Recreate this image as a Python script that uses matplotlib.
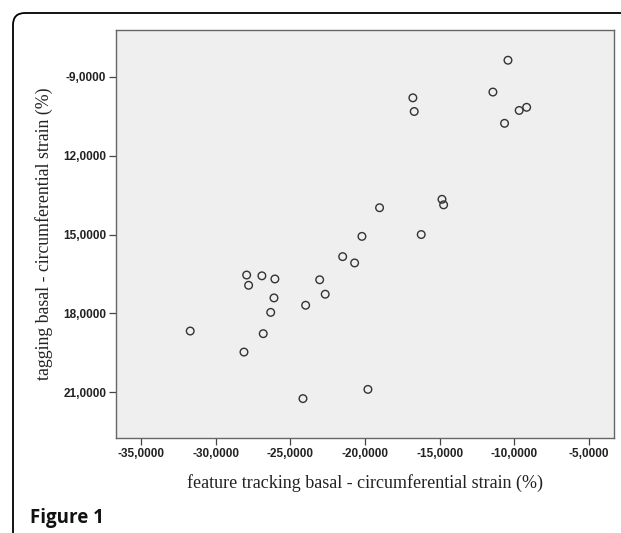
import matplotlib
matplotlib.use("Agg")
import matplotlib.pyplot as plt
from matplotlib.patches import FancyBboxPatch

# Data (feature tracking vs tagging basal circumferential strain, %)
feature_tracking = [-10.42, -11.43, -16.79, -16.70, -9.17, -9.67, -10.65,
                    -19.02, -14.84, -14.73, -16.23, -20.20, -21.49, -20.69,
                    -27.92, -26.90, -26.03, -27.79, -23.03, -22.66, -26.09,
                    -23.97, -26.31, -31.70, -26.81, -28.10, -19.80, -24.15]
tagging = [-8.37, -9.58, -9.80, -10.32, -10.16, -10.28, -10.77,
           -13.98, -13.66, -13.87, -15.00, -15.07, -15.84, -16.08,
           -16.54, -16.57, -16.69, -16.93, -16.72, -17.27, -17.41,
           -17.69, -17.96, -18.67, -18.77, -19.47, -20.89, -21.24]

x_ticks = [-35, -30, -25, -20, -15, -10, -5]
x_tick_labels = ["-35,0000", "-30,0000", "-25,0000", "-20,0000",
                 "-15,0000", "-10,0000", "-5,0000"]
y_ticks = [-9, -12, -15, -18, -21]
y_tick_labels = ["-9,0000", "12,0000", "15,0000", "18,0000", "21,0000"]

W, H = 621, 533
fig = plt.figure(figsize=(W / 100, H / 100), dpi=100)
fig.patch.set_facecolor("white")

# Frame overlay in pixel coordinates
ov = fig.add_axes([0, 0, 1, 1])
ov.set_xlim(0, W)
ov.set_ylim(H, 0)
ov.axis("off")
frame = FancyBboxPatch((13, 13), 800, 800,
                       boxstyle="round,pad=0,rounding_size=12",
                       facecolor="none", edgecolor="black", linewidth=1.3)
ov.add_patch(frame)
ov.text(30, 523, "Figure 1", fontsize=13.5, fontweight="bold",
        family=["Open Sans", "DejaVu Sans"], va="baseline", ha="left",
        color="#111111")

ax = fig.add_axes([116 / W, 1 - 438.3 / H, (614.3 - 116) / W, (438.3 - 30) / H])
ax.set_facecolor("#efefef")
ax.scatter(feature_tracking, tagging, s=30, facecolors="none",
           edgecolors="#333333", linewidths=1.0, zorder=3)

ax.set_xlim(-36.67, -3.3)
ax.set_ylim(-22.75, -7.22)
ax.set_xticks(x_ticks)
ax.set_xticklabels(x_tick_labels)
ax.set_yticks(y_ticks)
ax.set_yticklabels(y_tick_labels)
for lab in ax.get_xticklabels() + ax.get_yticklabels():
    lab.set_family("Liberation Sans")
    lab.set_fontweight("bold")
    lab.set_fontsize(8.5)
    lab.set_color("#222222")
ax.tick_params(direction="out", length=5, width=0.9, color="#444444", pad=2)
for s in ax.spines.values():
    s.set_color("#666666")
    s.set_linewidth(1.0)

ax.xaxis.set_label_coords((372 - 116) / (614.3 - 116), -0.087)
ax.set_xlabel("feature tracking basal - circumferential strain (%)",
              family="Liberation Serif", fontsize=13, color="#222222")
ax.set_ylabel("tagging basal - circumferential strain (%)",
              family="Liberation Serif", fontsize=12.8, color="#222222", labelpad=7)

fig.savefig("out.png", dpi=100)
